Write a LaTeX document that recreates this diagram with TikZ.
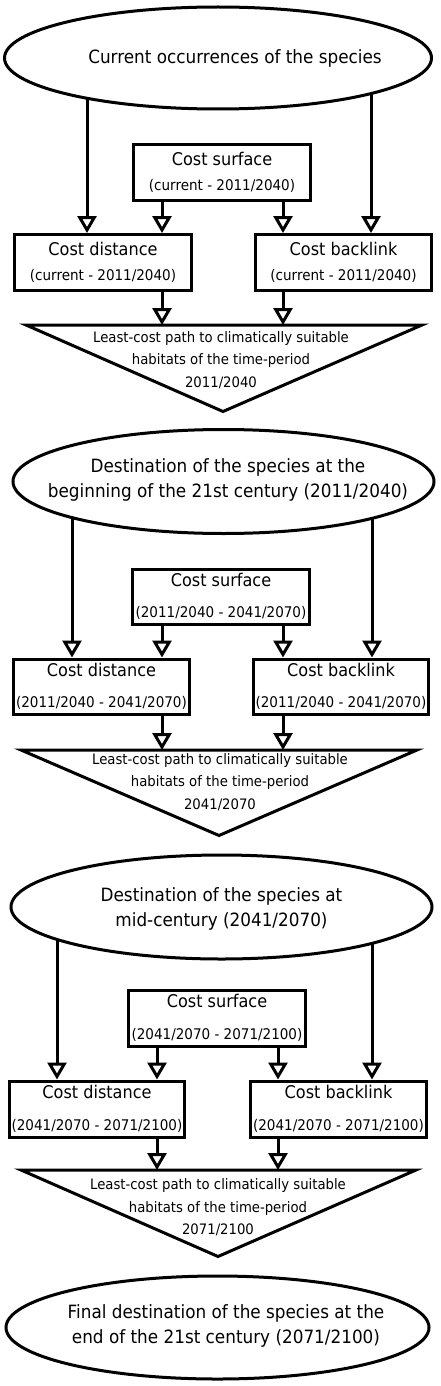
\documentclass[tikz,border=0pt]{standalone}
\usepackage{fontspec}
\setmainfont[FakeStretch=0.92]{DejaVu Sans}
\usetikzlibrary{shapes.geometric,arrows.meta,backgrounds}
\newcommand{\yrs}[1]{{\fontsize{14.7}{17}\selectfont #1}}

\begin{document}
\begin{tikzpicture}[x=1pt,y=-1pt,
  occ/.style={draw,ellipse,line width=3pt,fill=white,inner sep=0pt},
  occtxt/.style={align=center,font=\fontsize{18.3}{25}\selectfont},
  costbox/.style={draw,line width=3pt,fill=white,inner sep=0pt,align=center,font=\fontsize{17.5}{24.4}\selectfont},
  lcp/.style={align=center,font=\fontsize{14.4}{22.5}\selectfont},
  tri/.style={line width=3pt},
  flow/.style={line width=3pt,-{Triangle[open,length=17pt,width=19pt]}}]
\useasboundingbox (0,0) rectangle (440,1386);

\node[occ,minimum width=427pt,minimum height=102pt] (occ1) at (218,58) {};
\node[occtxt] (occ1txt) at (235,58) {Current occurrences of the species};

\node[costbox,minimum width=177pt,minimum height=56pt] (surf1) at (222,172.5) {Cost surface\\\yrs{(current - 2011/2040)}};
\node[costbox,minimum width=177pt,minimum height=56pt] (dist1) at (103,262.5) {Cost distance\\\yrs{(current - 2011/2040)}};
\node[costbox,minimum width=176pt,minimum height=56pt] (back1) at (343.5,262.5) {Cost backlink\\\yrs{(current - 2011/2040)}};

\draw[tri] (26,325) coordinate (tri1) -- (422,325) -- (223,411.5) -- cycle;
\node[lcp] (lcp1) at (221,360) {Least-cost path to climatically suitable\\habitats of the time-period\\2011/2040};

\node[occ,minimum width=421pt,minimum height=104pt] (dest1) at (223.5,481.5) {};
\node[occtxt] (dest1txt) at (228,479.5) {Destination of the species at the\\beginning of the 21st century (2011/2040)};

\node[costbox,minimum width=177pt,minimum height=55pt] (surf2) at (221,596.5) {Cost surface\\[7pt]\yrs{(2011/2040 - 2041/2070)}};
\node[costbox,minimum width=176pt,minimum height=55pt] (dist2) at (101.5,686.5) {Cost distance\\[7pt]\yrs{(2011/2040 - 2041/2070)}};
\node[costbox,minimum width=175pt,minimum height=55pt] (back2) at (341,686.5) {Cost backlink\\[7pt]\yrs{(2011/2040 - 2041/2070)}};

\draw[tri] (21,750) coordinate (tri2) -- (417,750) -- (219,835.5) -- cycle;
\node[lcp] (lcp2) at (220,782) {Least-cost path to climatically suitable\\habitats of the time-period\\2041/2070};

\node[occ,minimum width=421pt,minimum height=104pt] (dest2) at (221.5,907) {};
\node[occtxt] (dest2txt) at (221.5,908.5) {Destination of the species at\\mid-century (2041/2070)};

\node[costbox,minimum width=177pt,minimum height=56pt] (surf3) at (217,1018) {Cost surface\\[7pt]\yrs{(2041/2070 - 2071/2100)}};
\node[costbox,minimum width=175pt,minimum height=56pt] (dist3) at (97,1109) {Cost distance\\[7pt]\yrs{(2041/2070 - 2071/2100)}};
\node[costbox,minimum width=176pt,minimum height=56pt] (back3) at (338.5,1109) {Cost backlink\\[7pt]\yrs{(2041/2070 - 2071/2100)}};

\draw[tri] (21,1170) coordinate (tri3) -- (416,1170) -- (218,1256.5) -- cycle;
\node[lcp] (lcp3) at (218,1207.5) {Least-cost path to climatically suitable\\habitats of the time-period\\2071/2100};

\node[occ,minimum width=423pt,minimum height=103pt] (dest3) at (217.5,1327.5) {};
\node[occtxt] (dest3txt) at (226,1326) {Final destination of the species at the\\end of the 21st century (2071/2100)};

\coordinate (l1) at (87,0);  \coordinate (r1) at (371,0);
\coordinate (a1) at (162,0); \coordinate (b1) at (283,0);
\coordinate (l2) at (72,0);  \coordinate (r2) at (372,0);
\coordinate (a2) at (162,0); \coordinate (b2) at (283,0);
\coordinate (l3) at (57,0);  \coordinate (r3) at (372,0);
\coordinate (a3) at (157,0); \coordinate (b3) at (278,0);

\begin{scope}[on background layer]
\draw[flow] (occ1.center -| l1) -- (dist1.north -| l1);
\draw[flow] (occ1.center -| r1) -- (back1.north -| r1);
\draw[flow] (dest1.center -| l2) -- (dist2.north -| l2);
\draw[flow] (dest1.center -| r2) -- (back2.north -| r2);
\draw[flow] (dest2.center -| l3) -- (dist3.north -| l3);
\draw[flow] (dest2.center -| r3) -- (back3.north -| r3);
\end{scope}

\draw[flow] (surf1.south -| a1) -- (dist1.north -| a1);
\draw[flow] (surf1.south -| b1) -- (back1.north -| b1);
\draw[flow] (dist1.south -| a1) -- (tri1 -| a1);
\draw[flow] (back1.south -| b1) -- (tri1 -| b1);

\draw[flow] (surf2.south -| a2) -- (dist2.north -| a2);
\draw[flow] (surf2.south -| b2) -- (back2.north -| b2);
\draw[flow] (dist2.south -| a2) -- (tri2 -| a2);
\draw[flow] (back2.south -| b2) -- (tri2 -| b2);

\draw[flow] (surf3.south -| a3) -- (dist3.north -| a3);
\draw[flow] (surf3.south -| b3) -- (back3.north -| b3);
\draw[flow] (dist3.south -| a3) -- (tri3 -| a3);
\draw[flow] (back3.south -| b3) -- (tri3 -| b3);
\end{tikzpicture}
\end{document}
